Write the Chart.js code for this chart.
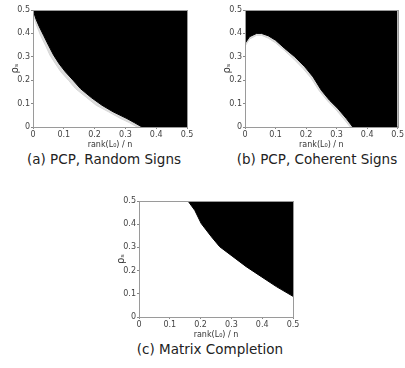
<!DOCTYPE html>
<html>
<head>
<meta charset="utf-8">
<script src="https://cdn.jsdelivr.net/npm/chart.js@4"></script>
<style>
  body { margin: 0; background: #fff; width: 405px; height: 368px; position: relative; overflow: hidden; }
  .panel { position: absolute; }
  .caption { position: absolute; font-family: "DejaVu Sans", sans-serif; font-size: 13.5px; color: #222; text-align: center; white-space: nowrap; }
</style>
</head>
<body>
<div class="panel" style="left:0;top:0;width:200px;height:150px"><canvas id="chartA"></canvas></div>
<div class="panel" style="left:212px;top:0;width:193px;height:150px"><canvas id="chartB"></canvas></div>
<div class="panel" style="left:106px;top:190px;width:200px;height:150px"><canvas id="chartC"></canvas></div>
<div class="caption" style="left:4px;top:151px;width:200px">(a) PCP, Random Signs</div>
<div class="caption" style="left:217px;top:151px;width:200px">(b) PCP, Coherent Signs</div>
<div class="caption" style="left:110px;top:341px;width:200px">(c) Matrix Completion</div>
<script>
// Tick values shared by every axis
const tickValues = [0, 0.1, 0.2, 0.3, 0.4, 0.5];

// (a) PCP, random signs: edge of the failure (black) region
const rankA = [0, 0.01, 0.02, 0.035, 0.05, 0.067, 0.085, 0.105, 0.13, 0.154, 0.19, 0.224, 0.26, 0.305, 0.33, 0.354, 0.5];
const rhoA  = [0.5, 0.46, 0.43, 0.39, 0.35, 0.307, 0.27, 0.236, 0.2, 0.164, 0.125, 0.093, 0.065, 0.036, 0.018, 0, 0];
// (a) soft grey transition band just below it
const rankAGrey = [0, 0.01, 0.024, 0.04, 0.055, 0.073, 0.09, 0.115, 0.138, 0.175, 0.205, 0.245, 0.285, 0.314, 0.338, 0.5];
const rhoAGrey  = [0.49, 0.44, 0.393, 0.35, 0.307, 0.27, 0.236, 0.2, 0.164, 0.125, 0.093, 0.065, 0.036, 0.018, 0, 0];

// (b) PCP, coherent signs
const rankB = [0, 0.015, 0.038, 0.054, 0.076, 0.1, 0.13, 0.163, 0.196, 0.223, 0.25, 0.277, 0.304, 0.332, 0.353, 0.5];
const rhoB  = [0.357, 0.386, 0.4, 0.4, 0.39, 0.371, 0.336, 0.3, 0.257, 0.214, 0.157, 0.114, 0.079, 0.036, 0, 0];
const rankBGrey = [0, 0.015, 0.038, 0.054, 0.076, 0.1, 0.13, 0.16, 0.19, 0.216, 0.243, 0.27, 0.296, 0.324, 0.345, 0.5];
const rhoBGrey  = [0.345, 0.376, 0.392, 0.392, 0.38, 0.36, 0.326, 0.29, 0.25, 0.21, 0.155, 0.112, 0.077, 0.034, 0, 0];

// (c) Matrix completion
const rankC = [0.159, 0.181, 0.202, 0.235, 0.262, 0.305, 0.348, 0.397, 0.446, 0.5];
const rhoC  = [0.5, 0.46, 0.403, 0.346, 0.303, 0.26, 0.217, 0.174, 0.131, 0.089];

const xTitle = 'rank(L\u2080) / n';
const yTitle = '\u03C1\u209B';

// thin grey frame round the plot area
const framePlugin = {
    id: 'frame',
    afterDraw(chart) {
        const a = chart.chartArea;
        const ctx = chart.ctx;
        ctx.save();
        ctx.strokeStyle = '#9a9a9a';
        ctx.lineWidth = 1;
        ctx.strokeRect(Math.round(a.left) + 0.5, Math.round(a.top) + 0.5, Math.round(a.right - a.left), Math.round(a.bottom - a.top));
        ctx.restore();
    }
};

function toPoints(xs, ys) {
    return xs.map((x, i) => ({ x, y: ys[i] }));
}

function makeChart(id, black, grey, pad) {
    const datasets = [{
        data: toPoints(black[0], black[1]),
        borderColor: '#000',
        backgroundColor: '#000',
        borderWidth: 1,
        pointRadius: 0,
        fill: 'end',
        tension: 0,
        order: 0
    }];
    if (grey) {
        datasets.push({
            data: toPoints(grey[0], grey[1]),
            borderColor: '#d6d6d6',
            backgroundColor: '#dcdcdc',
            borderWidth: 1,
            pointRadius: 0,
            fill: 'end',
            tension: 0,
            order: 1
        });
    }

    const tickFont = { family: 'DejaVu Sans', size: 8 };

    return new Chart(document.getElementById(id), {
        type: 'line',
        data: { datasets },
        options: {
            responsive: true,
            maintainAspectRatio: false,
            animation: false,
            layout: { padding: pad },
            plugins: {
                legend: { display: false },
                tooltip: { enabled: false }
            },
            scales: {
                x: {
                    type: 'linear',
                    min: 0,
                    max: 0.5,
                    afterBuildTicks: s => { s.ticks = tickValues.map(v => ({ value: v })); },
                    afterFit: s => { s.height = 23; },
                    ticks: { color: '#444', font: tickFont, padding: 1, maxRotation: 0, callback: v => String(v) },
                    grid: { display: true, drawOnChartArea: false, tickLength: 2, color: '#888' },
                    border: { display: false },
                    title: { display: true, text: xTitle, color: '#333', font: tickFont, padding: { top: 0, bottom: 0 } }
                },
                y: {
                    type: 'linear',
                    min: 0,
                    max: 0.5,
                    afterBuildTicks: s => { s.ticks = tickValues.map(v => ({ value: v })); },
                    afterFit: s => { s.width = 33; },
                    ticks: { color: '#444', font: tickFont, padding: 1, callback: v => String(v) },
                    grid: { display: true, drawOnChartArea: false, tickLength: 2, color: '#888' },
                    border: { display: false },
                    title: { display: true, text: yTitle, color: '#333', font: { family: 'DejaVu Sans', size: 10 }, padding: { top: 9, bottom: 0 } }
                }
            }
        },
        plugins: [framePlugin]
    });
}

makeChart('chartA', [rankA, rhoA], [rankAGrey, rhoAGrey], { top: 10, right: 13, left: 0, bottom: 0 });
makeChart('chartB', [rankB, rhoB], [rankBGrey, rhoBGrey], { top: 10, right: 6, left: 0, bottom: 0 });
makeChart('chartC', [rankC, rhoC], null, { top: 11, right: 13, left: 0, bottom: 0 });
</script>
</body>
</html>
